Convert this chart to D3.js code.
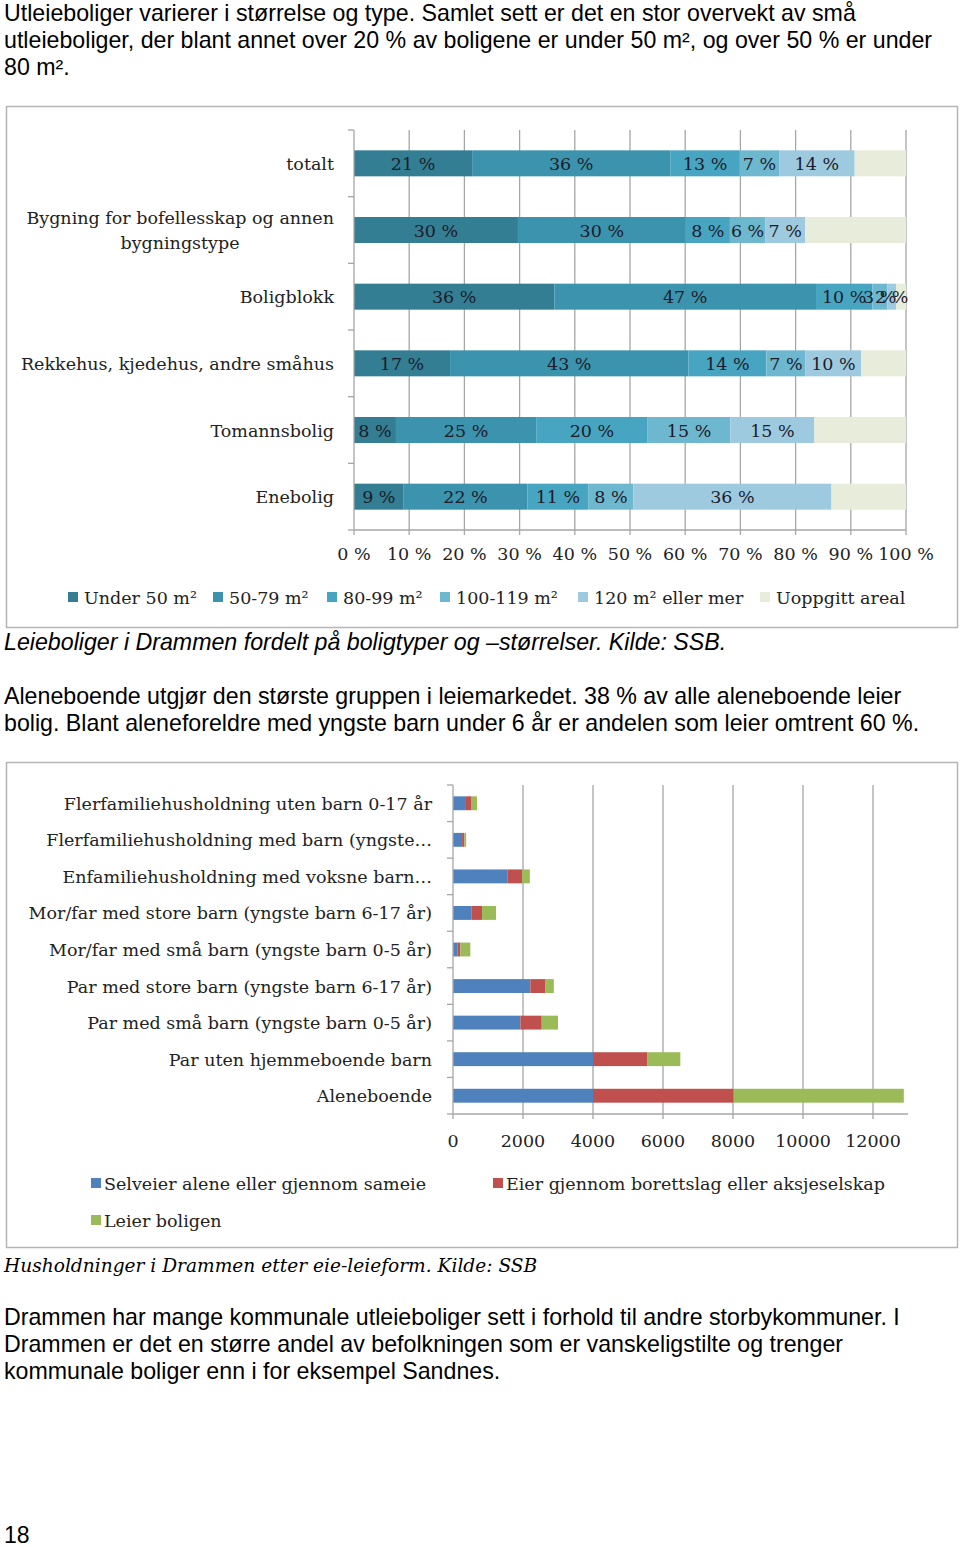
<!DOCTYPE html>
<html><head><meta charset="utf-8">
<script src="https://cdn.jsdelivr.net/npm/d3@7"></script>
<style>
body{margin:0;background:#fff;}
svg{display:block;}
.sans{font-family:"Liberation Sans",Arial,sans-serif;}
.serif{font-family:"DejaVu Serif",serif;}
</style></head>
<body>
<svg id="page" width="960" height="1547"></svg>
<script>
// ---------- Data: chart 1 ----------
const housingTypes = ["totalt","Bygning for bofellesskap og annen bygningstype","Boligblokk","Rekkehus, kjedehus, andre småhus","Tomannsbolig","Enebolig"];
const sizeSeries = ["Under 50 m²","50-79 m²","80-99 m²","100-119 m²","120 m² eller mer","Uoppgitt areal"];
const under50   = [21.4, 29.7, 36.3, 17.4,  7.6,  9.0];
const s50to79   = [35.9, 30.4, 47.4, 43.2, 25.4, 22.4];
const s80to99   = [12.6,  8.0, 10.2, 14.1, 20.2, 11.1];
const s100to119 = [ 7.1,  6.4,  2.7,  7.1, 15.0,  8.1];
const s120plus  = [13.7,  7.2,  1.6, 10.1, 15.2, 35.9];
const uoppgitt  = [ 9.3, 18.3,  1.8,  8.1, 16.6, 13.5];
const pctTicks = [0,10,20,30,40,50,60,70,80,90,100];
const sizeColors = ["#337e93","#3c93ad","#47a5c1","#6db8cf","#9ecae0","#e8ecda"];

// ---------- Data: chart 2 ----------
const householdTypes = ["Flerfamiliehusholdning uten barn 0-17 år","Flerfamiliehusholdning med barn (yngste…","Enfamiliehusholdning med voksne barn…","Mor/far med store barn (yngste barn 6-17 år)","Mor/far med små barn (yngste barn 0-5 år)","Par med store barn (yngste barn 6-17 år)","Par med små barn (yngste barn 0-5 år)","Par uten hjemmeboende barn","Aleneboende"];
const tenureSeries = ["Selveier alene eller gjennom sameie","Eier gjennom borettslag eller aksjeselskap","Leier boligen"];
const selveier = [370, 260, 1565, 535, 135, 2210, 1925, 4000, 4000];
const borettslag = [145, 65, 410, 295, 75, 420, 610, 1545, 4020];
const leier = [170, 50, 220, 400, 285, 250, 465, 950, 4860];
const countTicks = [0,2000,4000,6000,8000,10000,12000];
const tenureColors = ["#4f81bd","#c0504d","#9bbb59"];

const svg = d3.select("#page");

function para(lines, x, y0, lh, opts={}){
  lines.forEach((t,i)=>{
    svg.append("text").attr("class", opts.cls||"sans")
      .attr("x", x).attr("y", y0 + i*lh)
      .attr("font-size", opts.size||23.2)
      .attr("font-style", opts.italic?"italic":null)
      .attr("fill","#000").text(t);
  });
}

para(["Utleieboliger varierer i størrelse og type. Samlet sett er det en stor overvekt av små",
      "utleieboliger, der blant annet over 20 % av boligene er under 50 m², og over 50 % er under",
      "80 m²."], 4, 21, 27);

// ---------- Chart 1 ----------
svg.append("rect").attr("x",6.5).attr("y",106.5).attr("width",951).attr("height",521)
  .attr("fill","#fff").attr("stroke","#b5b5b5").attr("stroke-width",1.5);

const x1 = d3.scaleLinear().domain([0,100]).range([354,906]);
const y1 = d3.scaleBand().domain(housingTypes).range([130,530]).paddingInner(0.61).paddingOuter(0.305);
const rows1 = housingTypes.map((h,i)=>({type:h, v:[under50[i],s50to79[i],s80to99[i],s100to119[i],s120plus[i],uoppgitt[i]]}));
const table1 = rows1.map(r=>{const o={type:r.type}; sizeSeries.forEach((s,j)=>o[s]=r.v[j]); return o;});
const stack1 = d3.stack().keys(sizeSeries)(table1);

const g1 = svg.append("g");
g1.selectAll(".grid").data(pctTicks.slice(1)).join("line")
  .attr("x1",d=>x1(d)).attr("x2",d=>x1(d)).attr("y1",130).attr("y2",535)
  .attr("stroke","#a6a6a6").attr("stroke-width",1.3);
stack1.forEach((layer,j)=>{
  g1.selectAll(".seg"+j).data(layer).join("rect")
    .attr("x",d=>x1(d[0])).attr("width",d=>x1(d[1])-x1(d[0]))
    .attr("y",d=>y1(d.data.type)).attr("height",y1.bandwidth())
    .attr("fill",sizeColors[j]);
});
stack1.slice(0,5).forEach((layer,j)=>{
  g1.selectAll(".lab"+j).data(layer).join("text").attr("class","serif")
    .attr("x",d=>(x1(d[0])+x1(d[1]))/2).attr("y",d=>y1(d.data.type)+y1.bandwidth()/2+6.5)
    .attr("text-anchor","middle").attr("font-size",17.5).attr("fill","#1c1c2a")
    .text(d=>Math.round(d[1]-d[0])+" %");
});
g1.append("line").attr("x1",354).attr("x2",354).attr("y1",130).attr("y2",530).attr("stroke","#a6a6a6").attr("stroke-width",1.3);
g1.append("line").attr("x1",354).attr("x2",906).attr("y1",530).attr("y2",530).attr("stroke","#a6a6a6").attr("stroke-width",1.3);
const bounds1 = d3.range(housingTypes.length+1).map(i=>130+i*y1.step());
g1.selectAll(".yt").data(bounds1).join("line").attr("x1",348).attr("x2",354).attr("y1",d=>d).attr("y2",d=>d).attr("stroke","#a6a6a6").attr("stroke-width",1.3);
g1.append("line").attr("x1",354).attr("x2",354).attr("y1",530).attr("y2",535).attr("stroke","#a6a6a6").attr("stroke-width",1.3);
g1.selectAll(".xl").data(pctTicks).join("text").attr("class","serif")
  .attr("x",d=>x1(d)).attr("y",560).attr("text-anchor","middle").attr("font-size",17.5).attr("fill","#222")
  .text(d=>d+" %");
housingTypes.forEach(h=>{
  const cy = y1(h)+y1.bandwidth()/2;
  let lines = [h];
  if(h.startsWith("Bygning")) lines = ["Bygning for bofellesskap og annen","bygningstype"];
  const lh = 25;
  lines.forEach((t,k)=>{
    const two = lines.length>1 && k==1;
    g1.append("text").attr("class","serif").attr("x", two ? 180 : 334).attr("y",cy+6.5+(k-(lines.length-1)/2)*lh)
      .attr("text-anchor", two ? "middle":"end")
      .attr("font-size",17.5).attr("fill","#222").text(t);
  });
});
const leg1x = [68,213,327,440,578,760];
sizeSeries.forEach((s,j)=>{
  svg.append("rect").attr("x",leg1x[j]).attr("y",592).attr("width",10).attr("height",10).attr("fill",sizeColors[j]);
  svg.append("text").attr("class","serif").attr("x",leg1x[j]+16).attr("y",604).attr("font-size",17.5).attr("fill","#222").text(s);
});

para(["Leieboliger i Drammen fordelt på boligtyper og –størrelser. Kilde: SSB."], 4, 650, 27, {italic:true});
para(["Aleneboende utgjør den største gruppen i leiemarkedet. 38 % av alle aleneboende leier",
      "bolig. Blant aleneforeldre med yngste barn under 6 år er andelen som leier omtrent 60 %."], 4, 704, 27);

// ---------- Chart 2 ----------
svg.append("rect").attr("x",6.5).attr("y",762.5).attr("width",951).attr("height",485)
  .attr("fill","#fff").attr("stroke","#b5b5b5").attr("stroke-width",1.5);
const x2 = d3.scaleLinear().domain([0,13000]).range([453,908]);
const y2 = d3.scaleBand().domain(householdTypes).range([785,1114]).paddingInner(0.62).paddingOuter(0.31);
const table2 = householdTypes.map((h,i)=>({type:h,[tenureSeries[0]]:selveier[i],[tenureSeries[1]]:borettslag[i],[tenureSeries[2]]:leier[i]}));
const stack2 = d3.stack().keys(tenureSeries)(table2);
const g2 = svg.append("g");
g2.selectAll(".grid").data(countTicks.slice(1)).join("line")
  .attr("x1",d=>x2(d)).attr("x2",d=>x2(d)).attr("y1",785).attr("y2",1119)
  .attr("stroke","#a6a6a6").attr("stroke-width",1.3);
stack2.forEach((layer,j)=>{
  g2.selectAll(".seg"+j).data(layer).join("rect")
    .attr("x",d=>x2(d[0])).attr("width",d=>x2(d[1])-x2(d[0]))
    .attr("y",d=>y2(d.data.type)).attr("height",y2.bandwidth())
    .attr("fill",tenureColors[j]);
});
g2.append("line").attr("x1",453).attr("x2",453).attr("y1",785).attr("y2",1119).attr("stroke","#a6a6a6").attr("stroke-width",1.3);
g2.append("line").attr("x1",453).attr("x2",908).attr("y1",1114).attr("y2",1114).attr("stroke","#a6a6a6").attr("stroke-width",1.3);
const bounds2 = d3.range(householdTypes.length+1).map(i=>785+i*y2.step());
g2.selectAll(".yt").data(bounds2).join("line").attr("x1",447).attr("x2",453).attr("y1",d=>d).attr("y2",d=>d).attr("stroke","#a6a6a6").attr("stroke-width",1.3);
g2.selectAll(".xl").data(countTicks).join("text").attr("class","serif")
  .attr("x",d=>x2(d)).attr("y",1147).attr("text-anchor","middle").attr("font-size",17.5).attr("fill","#222")
  .text(d=>d);
householdTypes.forEach(h=>{
  g2.append("text").attr("class","serif").attr("x",432).attr("y",y2(h)+y2.bandwidth()/2+6.5)
    .attr("text-anchor","end").attr("font-size",17.5).attr("fill","#222").text(h);
});
const leg2 = [[91,1178],[493,1178],[91,1215]];
tenureSeries.forEach((s,j)=>{
  svg.append("rect").attr("x",leg2[j][0]).attr("y",leg2[j][1]).attr("width",10).attr("height",10).attr("fill",tenureColors[j]);
  svg.append("text").attr("class","serif").attr("x",leg2[j][0]+13).attr("y",leg2[j][1]+12).attr("font-size",17.5).attr("fill","#222").text(s);
});

para(["Husholdninger i Drammen etter eie-leieform. Kilde: SSB"], 4, 1272, 27, {italic:true, cls:"serif", size:18.6});
para(["Drammen har mange kommunale utleieboliger sett i forhold til andre storbykommuner. I",
      "Drammen er det en større andel av befolkningen som er vanskeligstilte og trenger",
      "kommunale boliger enn i for eksempel Sandnes."], 4, 1325, 27);
svg.append("text").attr("class","sans").attr("x",4).attr("y",1543).attr("font-size",23).attr("fill","#000").text("18");
</script>
</body></html>
